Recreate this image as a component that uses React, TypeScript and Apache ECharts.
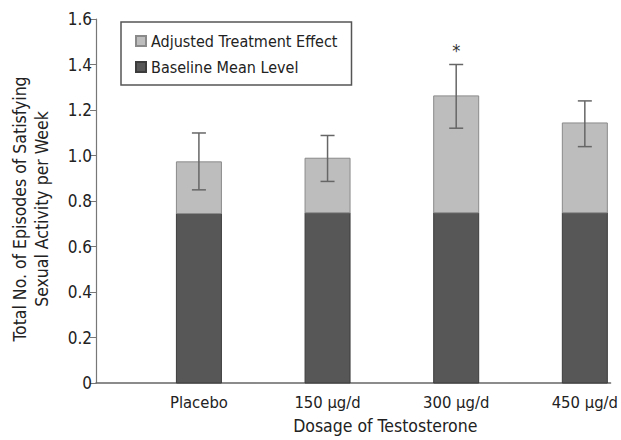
import React, { useEffect, useRef } from "react";
import * as echarts from "echarts";

const categories = ["Placebo", "150 µg/d", "300 µg/d", "450 µg/d"];
const baselineMean = [0.745, 0.748, 0.748, 0.748];
const treatmentEffect = [0.227, 0.24, 0.514, 0.395];
const errLow = [0.849, 0.886, 1.12, 1.039];
const errHigh = [1.099, 1.088, 1.4, 1.24];
const significance = ["", "", "*", ""];

const FONT = "'Liberation Sans Narrow', 'DejaVu Sans Condensed', 'Liberation Sans', Arial, sans-serif";
const BAR_W = 45;

function barItem(api: any, fill: string, stroke: string) {
  const x = api.value(0);
  const p0 = api.coord([x, api.value(1)]);
  const p1 = api.coord([x, api.value(2)]);
  return {
    type: "rect",
    shape: { x: p0[0] - BAR_W / 2, y: p1[1], width: BAR_W, height: p0[1] - p1[1] },
    style: { fill, stroke, lineWidth: 1 },
  };
}

export default function App() {
  const ref = useRef<HTMLDivElement>(null);
  useEffect(() => {
    document.body.style.margin = "0";
    if (!ref.current) return;
    const chart = echarts.init(ref.current, null, { renderer: "svg" });
    const baseData = categories.map((_, i) => [i, 0, baselineMean[i]]);
    const effData = categories.map((_, i) => [
      i,
      baselineMean[i],
      baselineMean[i] + treatmentEffect[i],
    ]);
    const errData = categories.map((_, i) => [i, errLow[i], errHigh[i]]);
    chart.setOption({
      animation: false,
      backgroundColor: "#ffffff",
      textStyle: { fontFamily: FONT },
      grid: { left: 96, right: 9, top: 19, bottom: 53, containLabel: false },
      legend: {
        orient: "vertical",
        left: 121,
        top: 22,
        data: ["Adjusted Treatment Effect", "Baseline Mean Level"],
        borderColor: "#555",
        borderWidth: 1.5,
        padding: [11, 14, 10, 14],
        itemGap: 10,
        itemWidth: 10,
        itemHeight: 10,
        icon: "rect",
        textStyle: { fontFamily: FONT, fontSize: 16, color: "#222" },
      },
      xAxis: {
        type: "value",
        min: -0.8,
        max: 3.2,
        splitNumber: 4,
        axisLine: { show: true, onZero: false, lineStyle: { color: "#666", width: 1.5 } },
        axisTick: { show: false },
        splitLine: { show: false },
        axisLabel: {
          fontFamily: FONT,
          fontSize: 16.5,
          color: "#222",
          margin: 11,
          showMinLabel: false,
          showMaxLabel: false,
          formatter: (v: number) =>
            Number.isInteger(v) && categories[v] !== undefined ? categories[v] : "",
        },
        name: "Dosage of Testosterone",
        nameLocation: "middle",
        nameGap: 34,
        nameTextStyle: { fontFamily: FONT, fontSize: 17.5, color: "#222", padding: [0, 0, 0, 64] },
      },
      yAxis: {
        type: "value",
        min: 0,
        max: 1.6,
        interval: 0.2,
        axisLine: { show: true, onZero: false, lineStyle: { color: "#777", width: 1.2 } },
        axisTick: { show: true, length: 6, lineStyle: { color: "#777" } },
        splitLine: { show: false },
        axisLabel: {
          fontFamily: FONT,
          fontSize: 17,
          color: "#222",
          margin: 4,
          formatter: (v: number) => (v === 0 ? "0" : v.toFixed(1)),
        },
        name: "Total No. of Episodes of Satisfying\nSexual Activity per Week",
        nameLocation: "middle",
        nameRotate: 90,
        nameGap: 43,
        nameTextStyle: {
          fontFamily: FONT,
          fontSize: 17.5,
          color: "#222",
          lineHeight: 22,
          padding: [0, 16, 0, 0],
        },
      },
      series: [
        {
          name: "Baseline Mean Level",
          type: "custom",
          data: baseData,
          encode: { x: 0, y: [1, 2] },
          itemStyle: { color: "#575757", borderColor: "#3c3c3c", borderWidth: 1 },
          renderItem: (_p: any, api: any) => barItem(api, "#575757", "#3c3c3c"),
        },
        {
          name: "Adjusted Treatment Effect",
          type: "custom",
          data: effData,
          encode: { x: 0, y: [1, 2] },
          itemStyle: { color: "#bdbdbd", borderColor: "#8a8a8a", borderWidth: 1 },
          renderItem: (_p: any, api: any) => barItem(api, "#bdbdbd", "#8a8a8a"),
        },
        {
          type: "custom",
          name: "err",
          data: errData,
          encode: { x: 0, y: [1, 2] },
          z: 5,
          renderItem: (params: any, api: any) => {
            const x = api.value(0);
            const lo = api.coord([x, api.value(1)]);
            const hi = api.coord([x, api.value(2)]);
            const sig = significance[params.dataIndex];
            const cap = 7;
            const style = { stroke: "#666", lineWidth: 1.5 };
            const children: any[] = [
              { type: "line", shape: { x1: lo[0], y1: lo[1], x2: hi[0], y2: hi[1] }, style },
              { type: "line", shape: { x1: hi[0] - cap, y1: hi[1], x2: hi[0] + cap, y2: hi[1] }, style },
              { type: "line", shape: { x1: lo[0] - cap, y1: lo[1], x2: lo[0] + cap, y2: lo[1] }, style },
            ];
            if (sig) {
              children.push({
                type: "text",
                style: {
                  text: sig,
                  x: hi[0],
                  y: hi[1] - 5,
                  align: "center",
                  verticalAlign: "bottom",
                  fontSize: 18,
                  fontFamily: FONT,
                  fill: "#333",
                },
              });
            }
            return { type: "group", children };
          },
        },
      ],
    });
    return () => chart.dispose();
  }, []);
  return <div ref={ref} style={{ width: 621, height: 440 }} />;
}
